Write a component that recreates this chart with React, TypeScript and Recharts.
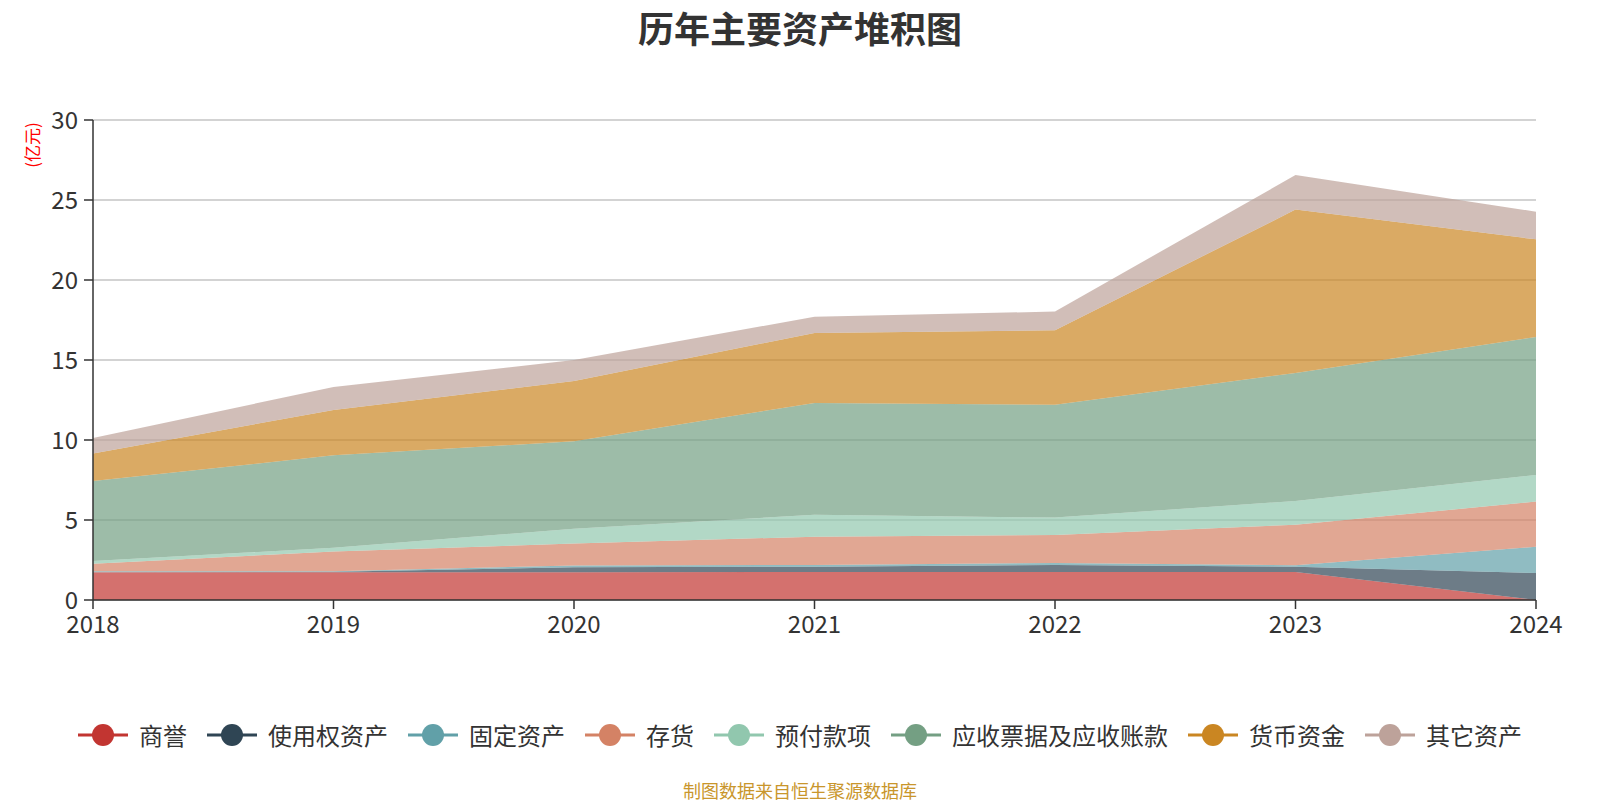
import React from 'react';
import { AreaChart, Area, XAxis, YAxis, CartesianGrid, Legend } from 'recharts';

const years = ['2018', '2019', '2020', '2021', '2022', '2023', '2024'];
const goodwill = [1.74, 1.74, 1.74, 1.75, 1.75, 1.75, 0];
const rightOfUse = [0, 0.02, 0.3, 0.33, 0.44, 0.33, 1.69];
const fixedAssets = [0.06, 0.04, 0.12, 0.11, 0.12, 0.09, 1.64];
const inventory = [0.47, 1.23, 1.37, 1.77, 1.75, 2.54, 2.82];
const prepaid = [0.17, 0.23, 0.92, 1.37, 1.09, 1.48, 1.66];
const receivables = [4.99, 5.78, 5.47, 6.99, 7.05, 8.0, 8.63];
const cash = [1.73, 2.84, 3.76, 4.37, 4.66, 10.21, 6.1];
const otherAssets = [0.97, 1.43, 1.32, 1.01, 1.17, 2.16, 1.73];
const yTicks = [0, 5, 10, 15, 20, 25, 30];

const seriesNames = ['商誉', '使用权资产', '固定资产', '存货', '预付款项', '应收票据及应收账款', '货币资金', '其它资产'];
const seriesKeys = ['goodwill', 'rightOfUse', 'fixedAssets', 'inventory', 'prepaid', 'receivables', 'cash', 'otherAssets'];
const seriesValues = [goodwill, rightOfUse, fixedAssets, inventory, prepaid, receivables, cash, otherAssets];
const seriesColors = ['#c23531', '#2f4554', '#61a0a8', '#d48265', '#91c7ae', '#749f83', '#ca8622', '#bda29a'];

const data = years.map((y, i) => {
  const row: Record<string, string | number> = { year: y };
  seriesKeys.forEach((k, j) => {
    row[k] = seriesValues[j][i];
  });
  return row;
});

const FONT = "'Noto Sans CJK SC', 'Noto Sans', sans-serif";

const LegendContent = () => (
  <div
    style={{
      display: 'flex',
      justifyContent: 'center',
      alignItems: 'center',
      width: 1600,
      height: 24,
      fontFamily: FONT,
      fontSize: 24,
      color: '#333',
      lineHeight: '24px',
    }}
  >
    {seriesNames.map((name, i) => (
      <div key={name} style={{ display: 'flex', alignItems: 'center', marginLeft: i === 0 ? 0 : 20 }}>
        <svg width={50} height={24} style={{ display: 'block' }}>
          <line x1={0} y1={12} x2={50} y2={12} stroke={seriesColors[i]} strokeWidth={3} />
          <circle cx={25} cy={12} r={11} fill={seriesColors[i]} />
        </svg>
        <span style={{ marginLeft: 11, whiteSpace: 'nowrap' }}>{name}</span>
      </div>
    ))}
  </div>
);

export default function App() {
  return (
    <div style={{ position: 'absolute', left: 0, top: 0, width: 1600, height: 800, background: '#fff', fontFamily: FONT }}>
      <div
        style={{
          position: 'absolute',
          left: 0,
          top: 9,
          width: 1600,
          textAlign: 'center',
          fontSize: 36,
          lineHeight: '36px',
          fontWeight: 'bold',
          color: '#333',
        }}
      >
        历年主要资产堆积图
      </div>
      <div
        style={{
          position: 'absolute',
          left: 31,
          top: 145,
          transform: 'translate(-50%, -50%) rotate(-90deg)',
          fontSize: 17,
          lineHeight: '17px',
          color: '#ff0000',
          whiteSpace: 'nowrap',
        }}
      >
        (亿元)
      </div>
      <AreaChart width={1600} height={800} data={data} margin={{ top: 120, right: 64, bottom: 170, left: 33 }}>
        <CartesianGrid horizontal vertical={false} stroke="#c4c4c4" strokeWidth={1.5} />
        <XAxis
          dataKey="year"
          height={30}
          tickSize={9}
          tickMargin={7}
          axisLine={{ stroke: '#333', strokeWidth: 1.5 }}
          tickLine={{ stroke: '#333', strokeWidth: 1.5 }}
          tick={{ fill: '#333', fontSize: 24, fontFamily: FONT }}
          interval={0}
        />
        <YAxis
          width={60}
          domain={[0, 30]}
          ticks={yTicks}
          tickSize={9}
          tickMargin={6}
          axisLine={{ stroke: '#333', strokeWidth: 1.5 }}
          tickLine={{ stroke: '#333', strokeWidth: 1.5 }}
          tick={{ fill: '#333', fontSize: 24, fontFamily: FONT }}
          allowDataOverflow
        />
        {seriesKeys.map((k, i) => (
          <Area
            key={k}
            type="linear"
            dataKey={k}
            name={seriesNames[i]}
            stackId="assets"
            stroke="none"
            fill={seriesColors[i]}
            fillOpacity={0.7}
            isAnimationActive={false}
            dot={false}
            activeDot={false}
          />
        ))}
        <Legend
          layout="horizontal"
          verticalAlign="middle"
          align="center"
          wrapperStyle={{ top: 723, left: 0, width: 1600, height: 24 }}
          content={() => <LegendContent />}
        />
      </AreaChart>
      <div
        style={{
          position: 'absolute',
          left: 0,
          top: 781,
          width: 1600,
          textAlign: 'center',
          fontSize: 18,
          lineHeight: '18px',
          color: '#c9962c',
        }}
      >
        制图数据来自恒生聚源数据库
      </div>
    </div>
  );
}
